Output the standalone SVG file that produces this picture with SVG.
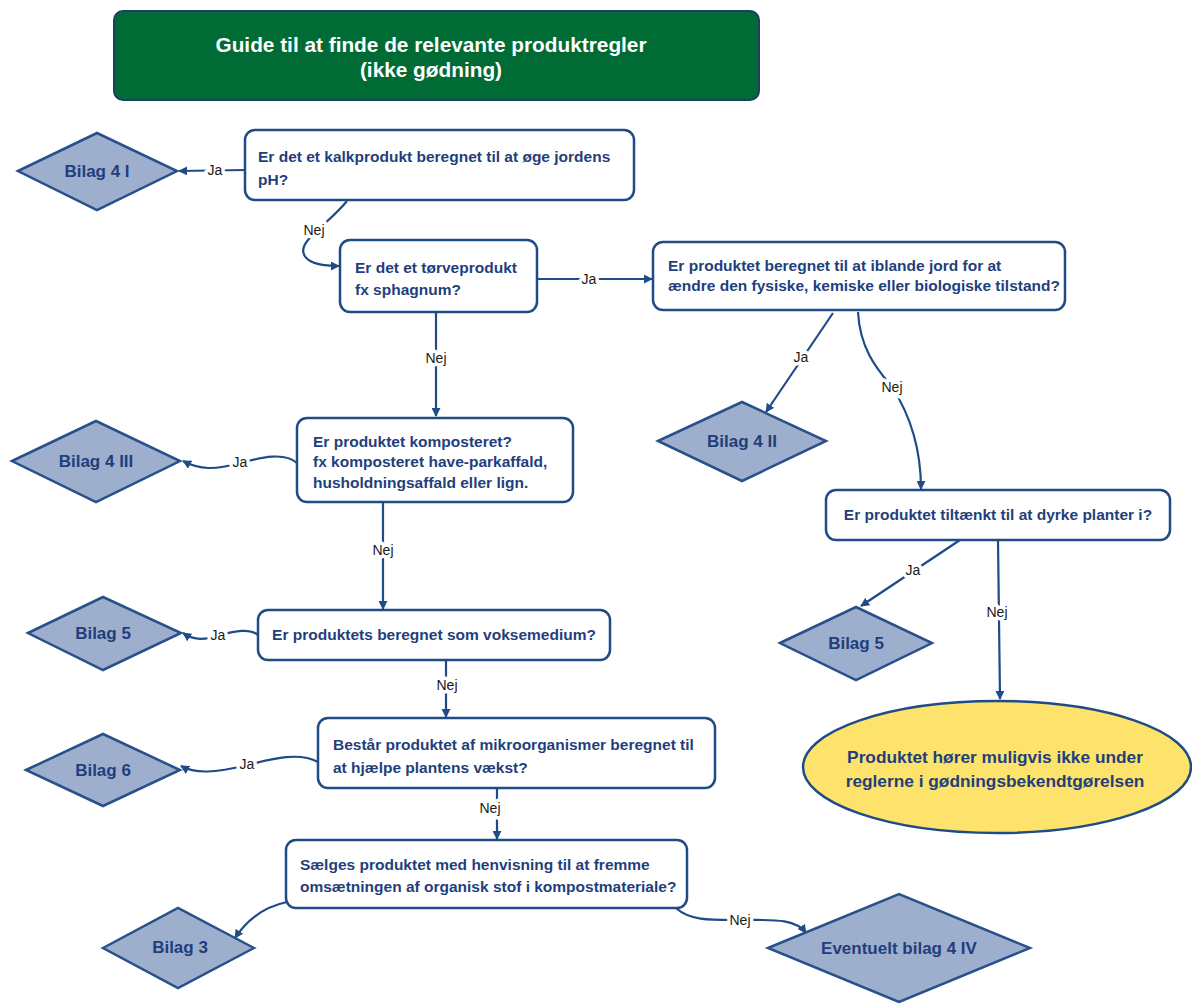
<svg xmlns="http://www.w3.org/2000/svg" width="1192" height="1003" viewBox="0 0 1192 1003">
<style>
.box{fill:#ffffff;stroke:#1f4b87;stroke-width:2.5}
.dia{fill:#9eaecd;stroke:#28508a;stroke-width:2.5}
.q{font-family:"Liberation Sans",Arial,sans-serif;font-weight:bold;font-size:15.5px;fill:#1f3f7c}
.dt{font-family:"Liberation Sans",Arial,sans-serif;font-weight:bold;font-size:17px;fill:#1f3f7c;text-anchor:middle}
.et{font-family:"Liberation Sans",Arial,sans-serif;font-weight:bold;font-size:17.3px;fill:#1f3f7c;text-anchor:middle}
.lbl{font-family:"Liberation Sans",Arial,sans-serif;font-size:14px;fill:#1a1a1a;text-anchor:middle;stroke:#ffffff;stroke-width:7;paint-order:stroke;stroke-linejoin:round}
.c{fill:none;stroke:#1f4b87;stroke-width:2.2}
.title{font-family:"Liberation Sans",Arial,sans-serif;font-weight:bold;font-size:20.8px;fill:#ffffff;text-anchor:middle}
</style>
<defs>
<marker id="ah" viewBox="0 0 10 10" refX="9" refY="5" markerWidth="9" markerHeight="9" markerUnits="userSpaceOnUse" orient="auto">
<path d="M0,0 L10,5 L0,10 z" fill="#1f4b87"/>
</marker>
</defs>

<g id="title">
<rect x="114" y="11" width="645" height="89" rx="9" fill="#006b35" stroke="#1f3d6a" stroke-width="2"/>
<text class="title" x="431" y="52">Guide til at finde de relevante produktregler</text>
<text class="title" x="431" y="77">(ikke gødning)</text>
</g>

<g id="connectors">
<path class="c" marker-end="url(#ah)" d="M245,170 L179,171"/>
<path class="c" marker-end="url(#ah)" d="M347,201 C 335,216 318,228 308,240 C 298,252 302,266 339,266"/>
<path class="c" marker-end="url(#ah)" d="M537,279 L652,279"/>
<path class="c" marker-end="url(#ah)" d="M436,312 L436,416"/>
<path class="c" marker-end="url(#ah)" d="M297,463 C 285,452 262,457 240,463 C 215,470 200,470 183,461"/>
<path class="c" marker-end="url(#ah)" d="M383,502 L383,609"/>
<path class="c" marker-end="url(#ah)" d="M258,635 C 250,628 235,631 220,635 C 205,640 195,641 183,633"/>
<path class="c" marker-end="url(#ah)" d="M446,660 L446,717"/>
<path class="c" marker-end="url(#ah)" d="M318,762 C 300,752 275,758 247,765 C 215,773 195,774 181,766"/>
<path class="c" marker-end="url(#ah)" d="M497,788 L497,839"/>
<path class="c" marker-end="url(#ah)" d="M287,902 C 268,906 250,915 235,938"/>
<path class="c" marker-end="url(#ah)" d="M676,908 C 690,921 712,920 740,920 C 772,920 795,918 806,933"/>
<path class="c" marker-end="url(#ah)" d="M833,313 L766,412"/>
<path class="c" marker-end="url(#ah)" d="M858,312 C 860,350 878,370 892,387 C 912,418 921,450 921,489"/>
<path class="c" marker-end="url(#ah)" d="M960,540 L861,606"/>
<path class="c" marker-end="url(#ah)" d="M998,540 L1000,699"/>
<text class="lbl" x="215" y="175">Ja</text>
<text class="lbl" x="314" y="235">Nej</text>
<text class="lbl" x="589" y="284">Ja</text>
<text class="lbl" x="436" y="363">Nej</text>
<text class="lbl" x="240" y="467">Ja</text>
<text class="lbl" x="383" y="555">Nej</text>
<text class="lbl" x="218" y="640">Ja</text>
<text class="lbl" x="447" y="690">Nej</text>
<text class="lbl" x="247" y="769">Ja</text>
<text class="lbl" x="490" y="813">Nej</text>
<text class="lbl" x="740" y="925">Nej</text>
<text class="lbl" x="801" y="362">Ja</text>
<text class="lbl" x="892" y="392">Nej</text>
<text class="lbl" x="913" y="575">Ja</text>
<text class="lbl" x="997" y="617">Nej</text>
</g>

<g id="q-kalk">
<rect class="box" x="245" y="130" width="389" height="70" rx="10"/>
<text class="q" x="258" y="162">Er det et kalkprodukt beregnet til at øge jordens</text>
<text class="q" x="258" y="185">pH?</text>
</g>
<g id="bilag-4-i">
<polygon class="dia" points="18,171 97,133 177,171 97,210"/>
<text class="dt" x="97" y="177">Bilag 4 I</text>
</g>

<g id="q-toerv">
<rect class="box" x="340" y="240" width="197" height="72" rx="10"/>
<text class="q" x="355" y="273">Er det et tørveprodukt</text>
<text class="q" x="355" y="295">fx sphagnum?</text>
</g>

<g id="q-iblande">
<rect class="box" x="653" y="242" width="412" height="68" rx="10"/>
<text class="q" x="668" y="271">Er produktet beregnet til at iblande jord for at</text>
<text class="q" x="668" y="291">ændre den fysiske, kemiske eller biologiske tilstand?</text>
</g>
<g id="bilag-4-ii">
<polygon class="dia" points="658,441 742,402 826,441 742,481"/>
<text class="dt" x="742" y="447">Bilag 4 II</text>
</g>

<g id="q-kompost">
<rect class="box" x="297" y="418" width="276" height="84" rx="10"/>
<text class="q" x="313" y="447">Er produktet komposteret?</text>
<text class="q" x="313" y="467">fx komposteret have-parkaffald,</text>
<text class="q" x="313" y="488">husholdningsaffald eller lign.</text>
</g>
<g id="bilag-4-iii">
<polygon class="dia" points="12,461 96,421 180,461 96,502"/>
<text class="dt" x="96" y="467">Bilag 4 III</text>
</g>

<g id="q-tiltaenkt">
<rect class="box" x="826" y="490" width="344" height="50" rx="10"/>
<text class="q" x="998" y="520" text-anchor="middle">Er produktet tiltænkt til at dyrke planter i?</text>
</g>
<g id="bilag-5-right">
<polygon class="dia" points="780,643 856,607 932,643 856,680"/>
<text class="dt" x="856" y="649">Bilag 5</text>
</g>

<g id="q-vokse">
<rect class="box" x="258" y="610" width="352" height="50" rx="10"/>
<text class="q" x="434" y="640" text-anchor="middle">Er produktets beregnet som voksemedium?</text>
</g>
<g id="bilag-5-left">
<polygon class="dia" points="28,633 103,597 181,633 103,670"/>
<text class="dt" x="103" y="639">Bilag 5</text>
</g>

<g id="q-mikro">
<rect class="box" x="318" y="718" width="397" height="70" rx="10"/>
<text class="q" x="333" y="750">Består produktet af mikroorganismer beregnet til</text>
<text class="q" x="333" y="773">at hjælpe plantens vækst?</text>
</g>
<g id="bilag-6">
<polygon class="dia" points="26,770 103,734 180,770 103,806"/>
<text class="dt" x="103" y="776">Bilag 6</text>
</g>

<g id="q-saelges">
<rect class="box" x="286" y="840" width="401" height="68" rx="10"/>
<text class="q" x="300" y="870">Sælges produktet med henvisning til at fremme</text>
<text class="q" x="300" y="892">omsætningen af organisk stof i kompostmateriale?</text>
</g>
<g id="bilag-3">
<polygon class="dia" points="103,948 178,908 254,948 178,988"/>
<text class="dt" x="180" y="953">Bilag 3</text>
</g>
<g id="bilag-4-iv">
<polygon class="dia" points="768,948 899,894 1030,948 899,1002"/>
<text class="dt" x="899" y="954">Eventuelt bilag 4 IV</text>
</g>

<g id="end">
<ellipse cx="997" cy="767" rx="194" ry="66" fill="#fde36b" stroke="#1f4b87" stroke-width="2.5"/>
<text class="et" x="995" y="763">Produktet hører muligvis ikke under</text>
<text class="et" x="995" y="787">reglerne i gødningsbekendtgørelsen</text>
</g>
</svg>
